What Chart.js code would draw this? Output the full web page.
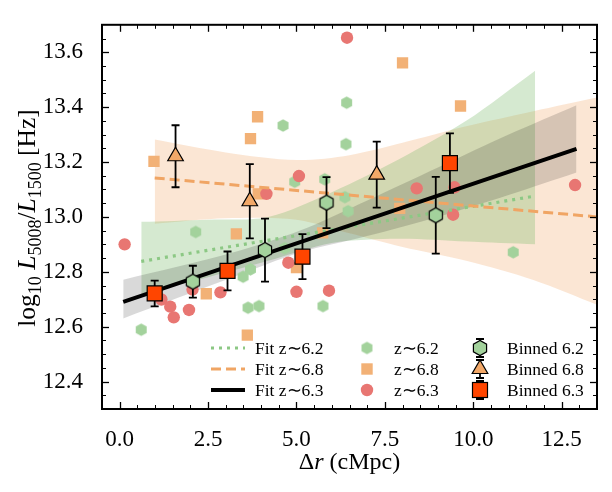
<!DOCTYPE html>
<html>
<head>
<meta charset="utf-8">
<script src="https://cdn.jsdelivr.net/npm/chart.js@4.4.1/dist/chart.umd.min.js"></script>
<style>
  html, body { margin: 0; padding: 0; background: #fff; }
</style>
</head>
<body>
<canvas id="chart" width="612" height="492"></canvas>
<script>
// tick labels
const xTicks = [0, 2.5, 5, 7.5, 10, 12.5];
const yTicks = [12.4, 12.6, 12.8, 13.0, 13.2, 13.4, 13.6];

// individual galaxies
const z62X = [0.61, 2.15, 3.49, 3.70, 3.63, 3.94, 4.62, 4.67, 4.95, 5.75, 5.80, 6.37, 6.40, 6.42, 6.46, 11.13];
const z62Y = [12.589, 12.945, 12.782, 12.809, 12.669, 12.675, 13.333, 12.886, 13.128, 12.675, 13.137, 13.072, 13.265, 13.416, 13.021, 12.871];
const z68X = [0.97, 2.45, 3.30, 3.61, 3.70, 3.90, 3.92, 5.00, 5.74, 7.92, 8.00, 9.64];
const z68Y = [13.202, 12.720, 12.938, 12.569, 13.285, 13.365, 13.084, 12.815, 12.942, 13.031, 13.561, 13.404];
const z63X = [0.14, 1.18, 1.43, 1.53, 1.96, 2.06, 2.85, 4.15, 4.77, 5.00, 5.07, 5.92, 6.43, 8.40, 9.43, 9.47, 12.88];
const z63Y = [12.900, 12.699, 12.673, 12.634, 12.661, 12.735, 12.725, 13.084, 12.833, 12.727, 13.149, 12.731, 13.653, 13.104, 13.008, 13.108, 13.116];

// binned values
const b62X = [2.07, 4.11, 5.85, 8.94];
const b62Y = [12.764, 12.879, 13.052, 13.006];
const b62Err = [0.058, 0.115, 0.093, 0.14];
const b68X = [1.58, 3.68, 7.27];
const b68Y = [13.221, 13.057, 13.154];
const b68Err = [0.113, 0.135, 0.12];
const b63X = [0.99, 3.05, 5.17, 9.34];
const b63Y = [12.721, 12.803, 12.855, 13.196];
const b63Err = [0.047, 0.071, 0.082, 0.108];

// fits (end points)
const fit62X = [0.61, 11.75];
const fit62Y = [12.838, 13.076];
const fit68X = [0.99, 13.5];
const fit68Y = [13.142, 13.0];
const fit63X = [0.10, 12.92];
const fit63Y = [12.69, 13.248];

// confidence bands
const band68X = [0.99, 3.0, 5.0, 6.5, 8.0, 9.8, 11.7, 13.5];
const band68Lo = [12.975, 12.995, 12.99, 12.94, 12.89, 12.84, 12.77, 12.68];
const band68Hi = [13.282, 13.235, 13.207, 13.225, 13.27, 13.33, 13.385, 13.435];
const band62X = [0.61, 2.5, 4.2, 6.0, 7.9, 9.8, 11.75];
const band62Lo = [12.72, 12.78, 12.84, 12.905, 12.92, 12.91, 12.90];
const band62Hi = [12.982, 12.99, 13.0, 13.09, 13.21, 13.35, 13.533];
const band63X = [0.10, 3.2, 5.1, 7.0, 9.0, 11.0, 12.92];
const band63Lo = [12.63, 12.78, 12.87, 12.93, 13.0, 13.08, 13.162];
const band63Hi = [12.771, 12.87, 12.95, 13.06, 13.18, 13.30, 13.407];

const SERIF = '"Liberation Serif", "Times New Roman", serif';

const cRed = 'rgb(232,118,114)';
const cGreen = 'rgb(163,210,156)';
const cOrange = 'rgb(242,177,118)';
const cTri = 'rgb(242,168,104)';
const cSq = 'rgb(255,69,0)';
const cDot = 'rgb(140,200,132)';
const cDash = 'rgb(240,165,100)';

const pts = (xs, ys) => xs.map((x, i) => ({ x: x, y: ys[i] }));

// hexagon marker, vertex on top
function hexPath(g, cx, cy, r) {
  g.beginPath();
  for (let k = 0; k < 6; k++) {
    const a = Math.PI / 2 + k * Math.PI / 3;
    const px = cx + r * Math.cos(a), py = cy - r * Math.sin(a);
    if (k) g.lineTo(px, py); else g.moveTo(px, py);
  }
  g.closePath();
}
function hexImage(r, fill, stroke, lw) {
  const s = Math.ceil(2 * r + 2 * (lw + 1));
  const cv = document.createElement('canvas');
  cv.width = s; cv.height = s;
  const g = cv.getContext('2d');
  hexPath(g, s / 2, s / 2, r);
  g.fillStyle = fill; g.fill();
  if (stroke) { g.lineWidth = lw; g.strokeStyle = stroke; g.stroke(); }
  return cv;
}
const hexSmall = hexImage(6.3, cGreen, null, 0);
const hexBig = hexImage(7.6, cGreen, '#000', 1.2);

function band(xs, lo, hi, color, order) {
  return [
    { type: 'line', data: pts(xs, hi), fill: '+1', backgroundColor: color, borderWidth: 0,
      pointRadius: 0, tension: 0.3, order: order },
    { type: 'line', data: pts(xs, lo), fill: false, borderWidth: 0, pointRadius: 0,
      tension: 0.3, order: order }
  ];
}

// error bars drawn just before each binned set
const errorBars = {
  id: 'errorBars',
  beforeDatasetDraw(chart, args) {
    const ds = chart.data.datasets[args.index];
    if (!ds.errs) return;
    const { ctx, scales: { x, y } } = chart;
    ctx.save();
    ctx.strokeStyle = '#000';
    ctx.lineWidth = 1.8;
    ds.data.forEach((p, i) => {
      const px = x.getPixelForValue(p.x);
      const top = y.getPixelForValue(p.y + ds.errs[i]);
      const bot = y.getPixelForValue(p.y - ds.errs[i]);
      ctx.beginPath();
      ctx.moveTo(px, top); ctx.lineTo(px, bot);
      ctx.moveTo(px - 4, top); ctx.lineTo(px + 4, top);
      ctx.moveTo(px - 4, bot); ctx.lineTo(px + 4, bot);
      ctx.stroke();
    });
    ctx.restore();
  }
};

// frame with inward ticks on all sides
const frame = {
  id: 'frame',
  afterDatasetsDraw(chart) {
    const { ctx, chartArea: a, scales: { x, y } } = chart;
    ctx.save();
    ctx.strokeStyle = '#000';
    const seg = (x1, y1, x2, y2) => { ctx.beginPath(); ctx.moveTo(x1, y1); ctx.lineTo(x2, y2); ctx.stroke(); };
    for (let k = 0; k <= 28; k++) {
      const v = -0.5 + k * 0.5;
      const px = Math.round(x.getPixelForValue(v)) + 0.5;
      if (px <= a.left + 1 || px >= a.right - 1) continue;
      const major = xTicks.some(t => Math.abs(t - v) < 1e-6);
      const L = major ? 7 : 4;
      ctx.lineWidth = major ? 1.3 : 1;
      seg(px, a.bottom, px, a.bottom - L);
      seg(px, a.top, px, a.top + L);
    }
    for (let k = 0; k <= 28; k++) {
      const v = 12.3 + k * 0.05;
      const py = Math.round(y.getPixelForValue(v)) + 0.5;
      if (py <= a.top + 1 || py >= a.bottom - 1) continue;
      const major = yTicks.some(t => Math.abs(t - v) < 1e-6);
      const L = major ? 7 : 4;
      ctx.lineWidth = major ? 1.3 : 1;
      seg(a.left, py, a.left + L, py);
      seg(a.right, py, a.right - L, py);
    }
    ctx.lineWidth = 2;
    ctx.strokeRect(a.left, a.top, a.right - a.left, a.bottom - a.top);
    ctx.restore();
  }
};

// rich text pieces (italic / subscript)
function drawPieces(ctx, pieces, size, subSize) {
  const fontOf = p => (p.it ? 'italic ' : '') + (p.sub ? subSize : size) + 'px ' + SERIF;
  let w = 0;
  pieces.forEach(p => { ctx.font = fontOf(p); w += ctx.measureText(p.t).width; });
  let cx = -w / 2;
  pieces.forEach(p => {
    ctx.font = fontOf(p);
    ctx.fillText(p.t, cx, p.sub ? subSize * 0.33 : 0);
    cx += ctx.measureText(p.t).width;
  });
}

const titles = {
  id: 'titles',
  afterDraw(chart) {
    const { ctx, chartArea: a } = chart;
    ctx.save();
    ctx.fillStyle = '#000';
    ctx.textBaseline = 'alphabetic';
    ctx.translate((a.left + a.right) / 2, 469);
    drawPieces(ctx, [{ t: 'Δ' }, { t: 'r', it: true }, { t: ' (cMpc)' }], 24, 17);
    ctx.restore();

    ctx.save();
    ctx.fillStyle = '#000';
    ctx.translate(35, 218);
    ctx.rotate(-Math.PI / 2);
    drawPieces(ctx, [
      { t: 'log' }, { t: '10', sub: true }, { t: ' ' },
      { t: 'L', it: true }, { t: '5008', sub: true }, { t: '/' },
      { t: 'L', it: true }, { t: '1500', sub: true }, { t: ' [Hz]' }
    ], 25.5, 18);
    ctx.restore();
  }
};

// three-column legend
const legendBox = {
  id: 'legendBox',
  afterDraw(chart) {
    const ctx = chart.ctx;
    const rows = [348, 369, 390];
    ctx.save();
    ctx.font = '17.5px ' + SERIF;
    ctx.fillStyle = '#000';
    ctx.textBaseline = 'middle';
    const line = (ry, color, w, dash) => {
      ctx.save();
      ctx.strokeStyle = color; ctx.lineWidth = w; ctx.setLineDash(dash);
      ctx.beginPath(); ctx.moveTo(211, ry); ctx.lineTo(245, ry); ctx.stroke();
      ctx.restore();
    };
    line(rows[0], cDot, 3.2, [3, 5]);
    line(rows[1], cDash, 3, [10, 5]);
    line(rows[2], '#000', 4, []);
    const txt1 = ['Fit z∼6.2', 'Fit z∼6.8', 'Fit z∼6.3'];
    txt1.forEach((t, i) => ctx.fillText(t, 255, rows[i] + 1));

    // column 2 markers
    ctx.drawImage(hexSmall, 367 - hexSmall.width / 2, rows[0] - hexSmall.height / 2);
    ctx.fillStyle = cOrange;
    ctx.fillRect(367 - 5.7, rows[1] - 5.7, 11.4, 11.4);
    ctx.fillStyle = cRed;
    ctx.beginPath(); ctx.arc(367, rows[2], 6.2, 0, Math.PI * 2); ctx.fill();
    const txt2 = ['z∼6.2', 'z∼6.8', 'z∼6.3'];
    ctx.fillStyle = '#000';
    txt2.forEach((t, i) => ctx.fillText(t, 394, rows[i] + 1));

    // column 3 markers with small error bars
    ctx.strokeStyle = '#000';
    ctx.lineWidth = 1.8;
    rows.forEach(ry => {
      ctx.beginPath();
      ctx.moveTo(480, ry - 9); ctx.lineTo(480, ry + 9);
      ctx.moveTo(476, ry - 9); ctx.lineTo(484, ry - 9);
      ctx.moveTo(476, ry + 9); ctx.lineTo(484, ry + 9);
      ctx.stroke();
    });
    ctx.drawImage(hexBig, 480 - hexBig.width / 2, rows[0] - hexBig.height / 2);
    ctx.lineWidth = 1.2;
    ctx.fillStyle = cTri;
    ctx.beginPath();
    ctx.moveTo(480, rows[1] - 9); ctx.lineTo(480 + 7.8, rows[1] + 4.5); ctx.lineTo(480 - 7.8, rows[1] + 4.5);
    ctx.closePath(); ctx.fill(); ctx.stroke();
    ctx.fillStyle = cSq;
    ctx.fillRect(472.5, rows[2] - 7.5, 15, 15);
    ctx.strokeRect(472.5, rows[2] - 7.5, 15, 15);
    const txt3 = ['Binned 6.2', 'Binned 6.8', 'Binned 6.3'];
    ctx.fillStyle = '#000';
    txt3.forEach((t, i) => ctx.fillText(t, 507, rows[i] + 1));
    ctx.restore();
  }
};

const datasets = [
  // binned points (top)
  { type: 'line', showLine: false, label: 'Binned 6.3', data: pts(b63X, b63Y), errs: b63Err,
    pointStyle: 'rect', pointRadius: 10.6, backgroundColor: cSq, borderColor: '#000', borderWidth: 1.2, order: 0 },
  { type: 'line', showLine: false, label: 'Binned 6.8', data: pts(b68X, b68Y), errs: b68Err,
    pointStyle: 'triangle', pointRadius: 9, backgroundColor: cTri, borderColor: '#000', borderWidth: 1.2, order: 0 },
  { type: 'line', showLine: false, label: 'Binned 6.2', data: pts(b62X, b62Y), errs: b62Err,
    pointStyle: hexBig, pointRadius: 8, order: 0 },
  // fits
  { type: 'line', label: 'Fit z~6.3', data: pts(fit63X, fit63Y), borderColor: '#000', borderWidth: 4,
    pointRadius: 0, fill: false, order: 1 },
  { type: 'line', label: 'Fit z~6.8', data: pts(fit68X, fit68Y), borderColor: cDash, borderWidth: 3,
    borderDash: [10, 5], pointRadius: 0, fill: false, order: 1 },
  { type: 'line', label: 'Fit z~6.2', data: pts(fit62X, fit62Y), borderColor: cDot, borderWidth: 3.2,
    borderDash: [3, 5], pointRadius: 0, fill: false, order: 1 },
  // individual galaxies
  { type: 'line', showLine: false, label: 'z~6.3', data: pts(z63X, z63Y), pointStyle: 'circle',
    pointRadius: 6.2, backgroundColor: cRed, borderWidth: 0, order: 2 },
  { type: 'line', showLine: false, label: 'z~6.8', data: pts(z68X, z68Y), pointStyle: 'rect',
    pointRadius: 8, backgroundColor: cOrange, borderWidth: 0, order: 2 },
  { type: 'line', showLine: false, label: 'z~6.2', data: pts(z62X, z62Y), pointStyle: hexSmall,
    pointRadius: 7, order: 2 }
]
  .concat(band(band63X, band63Lo, band63Hi, 'rgba(0,0,0,0.15)', 3))
  .concat(band(band62X, band62Lo, band62Hi, 'rgba(115,182,98,0.3)', 4))
  .concat(band(band68X, band68Lo, band68Hi, 'rgba(239,155,83,0.25)', 5));

new Chart(document.getElementById('chart'), {
  type: 'scatter',
  data: { datasets: datasets },
  options: {
    responsive: false,
    animation: false,
    events: [],
    layout: { padding: { top: 15, right: 15, left: 0, bottom: 0 } },
    plugins: { legend: { display: false }, tooltip: { enabled: false } },
    scales: {
      x: {
        type: 'linear', min: -0.5, max: 13.5,
        grid: { display: false }, border: { display: false },
        ticks: { color: '#000', font: { family: SERIF, size: 23 }, padding: 9, maxRotation: 0,
          callback: v => v.toFixed(1) },
        afterBuildTicks: s => { s.ticks = xTicks.map(v => ({ value: v })); },
        afterFit: s => { s.height = 83; }
      },
      y: {
        type: 'linear', min: 12.3, max: 13.7,
        grid: { display: false }, border: { display: false },
        ticks: { color: '#000', font: { family: SERIF, size: 23 }, padding: 11,
          callback: v => v.toFixed(1) },
        afterBuildTicks: s => { s.ticks = yTicks.map(v => ({ value: v })); },
        afterFit: s => { s.width = 102; }
      }
    }
  },
  plugins: [errorBars, frame, titles, legendBox]
});
</script>
</body>
</html>
